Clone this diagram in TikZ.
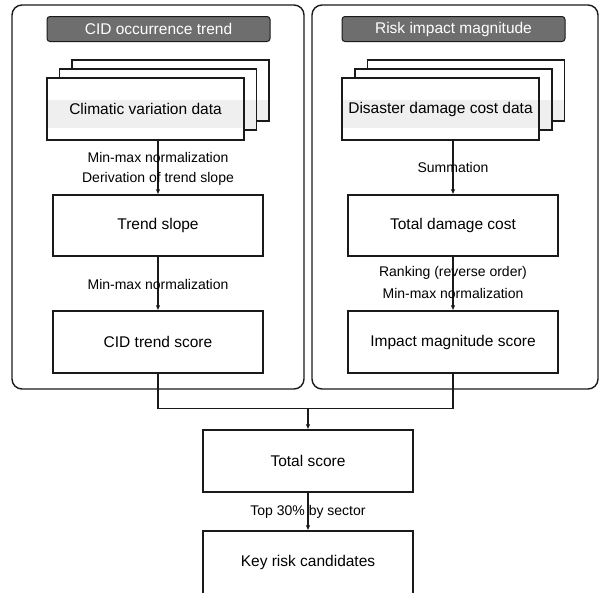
\documentclass[tikz,border=0pt]{standalone}
\usepackage{fontspec}
\setmainfont{Liberation Sans}
\usetikzlibrary{arrows.meta,calc}
\definecolor{hdr}{HTML}{6E6E6E}
\definecolor{bandc}{HTML}{EFEFEF}
\definecolor{ink}{HTML}{1A1A1A}
\tikzset{
  panel/.style={draw=ink,line width=1.4pt,rounded corners=10pt,inner sep=0pt},
  header/.style={draw=ink,line width=1pt,fill=hdr,rounded corners=3pt,text=white,
    minimum width=223pt,minimum height=25pt,inner sep=0pt,font=\fontsize{15.5}{18}\selectfont},
  stackbox/.style 2 args={draw=ink,line width=1.2pt,fill=white,minimum width=197pt,
    minimum height=61pt,inner sep=0pt,font=\fontsize{15.5}{18}\selectfont,
    path picture={\fill[bandc] ([yshift=#1pt]path picture bounding box.south west)
      rectangle ([yshift=#2pt]path picture bounding box.south east);}},
  mainbox/.style={draw=ink,line width=1.2pt,fill=white,minimum width=210pt,
    minimum height=61pt,inner sep=0pt,font=\fontsize{15.5}{18}\selectfont},
  lbl/.style={inner sep=0pt,font=\fontsize{14}{16}\selectfont},
  conn/.style={draw=ink,line width=1.1pt},
  arr/.style={conn,-{Latex[length=5pt,width=4.5pt]}},
}
\begin{document}
\begin{tikzpicture}[x=1pt,y=-1pt]
\useasboundingbox (0,0) rectangle (599,592);
\clip (0,0) rectangle (599,592);
% panels
\node[panel,minimum width=292pt,minimum height=384pt] (lpanel) at (158,197) {};
\node[panel,minimum width=286pt,minimum height=384pt] (rpanel) at (455,197) {};
\node[header] (lhead) at (158.5,29) {CID occurrence trend};
\node[header] (rhead) at (453.5,29) {Risk impact magnitude};
% left stack
\node[stackbox={0}{21}] (lback) at (170.5,90.5) {};
\node[stackbox={1}{30}] (lmid) at (158,99.5) {};
\node[stackbox={12}{40},minimum height=62pt] (lfront) at (145.5,109) {Climatic variation data};
% right stack
\node[stackbox={0}{21}] (rback) at (466,90.5) {};
\node[stackbox={1}{30}] (rmid) at (453.5,99.5) {};
\node[stackbox={12}{40},minimum height=62pt] (rfront) at (440.5,109) {Disaster damage cost data};
% main boxes
\node[mainbox] (tslope) at (158,225.5) {Trend slope};
\node[mainbox,minimum height=62pt] (cidscore) at (158,342) {CID trend score};
\node[mainbox] (tdamage) at (453,225.5) {Total damage cost};
\node[mainbox,minimum height=62pt] (impscore) at (453,342) {Impact magnitude score};
\node[mainbox,minimum height=62pt] (total) at (308,461) {Total score};
\node[mainbox,minimum height=66pt] (keyrisk) at (308,564) {};
\node[inner sep=0pt,font=\fontsize{15.5}{18}\selectfont] (keytext) at (308,562) {Key risk candidates};
% connectors
\draw[arr] (tslope.north |- lfront.south) -- (tslope.north);
\draw[arr] (cidscore.north |- tslope.south) -- (cidscore.north);
\draw[arr] (tdamage.north |- rfront.south) -- (tdamage.north);
\draw[arr] (tdamage.south) -- (impscore.north);
\draw[conn] (cidscore.south) -- ++(0,35) coordinate (jl) -| (impscore.south);
\coordinate (jm) at (total.north |- jl);
\draw[arr] (jm) -- (total.north);
\draw[arr] (total.south) -- (keyrisk.north);
% labels
\node[lbl] (l1) at (158,157) {Min-max normalization};
\node[lbl] (l2) at (158,179) {Derivation of trend slope};
\node[lbl] (l3) at (158,284) {Min-max normalization};
\node[lbl] (r1) at (453,167) {Summation};
\node[lbl] (r2) at (453,273) {Ranking (reverse order)};
\node[lbl] (r3) at (453,293) {Min-max normalization};
\node[lbl] (b1) at (308,512) {Top 30\% by sector};
\end{tikzpicture}
\end{document}
